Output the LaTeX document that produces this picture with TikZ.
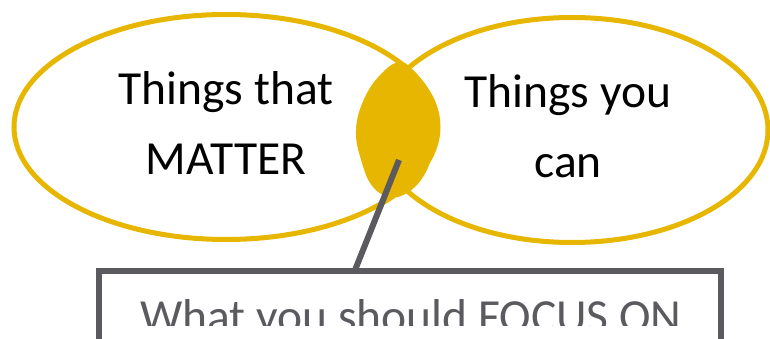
\documentclass[tikz,border=0pt]{standalone}
\usepackage{fontspec}
\usetikzlibrary{calc}
\setmainfont{Carlito}
\definecolor{gold}{RGB}{230,182,0}
\definecolor{boxgray}{RGB}{90,90,95}
\tikzset{
  circ/.style={draw=gold, line width=5pt},
  big/.style={font=\fontsize{47.5}{57}\selectfont, inner sep=0pt},
  pinline/.style={draw=boxgray, line width=6pt},
}
\begin{document}
\begin{tikzpicture}[x=1pt,y=-1pt]
\useasboundingbox (0,0) rectangle (770,339);
\clip (0,0) rectangle (770,339);
% ellipses
\draw[circ] (226,127) ellipse [x radius=212, y radius=112.5];
\draw[circ] (572,130) ellipse [x radius=196, y radius=112.5];
% overlap blob
\fill[gold] plot[smooth cycle, tension=0.7] coordinates {
  (400,62) (383,72) (365,97) (356,130) (362,163) (373,187) (390,197)
  (407,193) (423,177) (433,153) (439,127) (437,107) (427,87) (413,70)};
% labels
\node[big, anchor=base] (m1) at (226,105) {Things that};
\node[big, anchor=base] (m2) at (226,175) {MATTER};
\node[big, anchor=base] (c1) at (568,108) {Things you};
\node[big, anchor=base] (c2) at (568,178) {can};
% focus box
\node[draw=boxgray, line width=6pt, outer sep=0pt, inner sep=0pt,
      minimum width=622pt, minimum height=200pt, anchor=north west] (focus) at (99,271) {};
\begin{scope}
\clip (0,0) rectangle (770,325);
\node[big, anchor=base, text=boxgray] (focustext) at (411,332) {What you should FOCUS ON};
\end{scope}
% pointer
\coordinate (pin) at (399,160);
\coordinate (tail) at ($(focus.north west)!0.411!(focus.north east)$);
\draw[pinline] (pin) -- (tail);
\end{tikzpicture}
\end{document}
